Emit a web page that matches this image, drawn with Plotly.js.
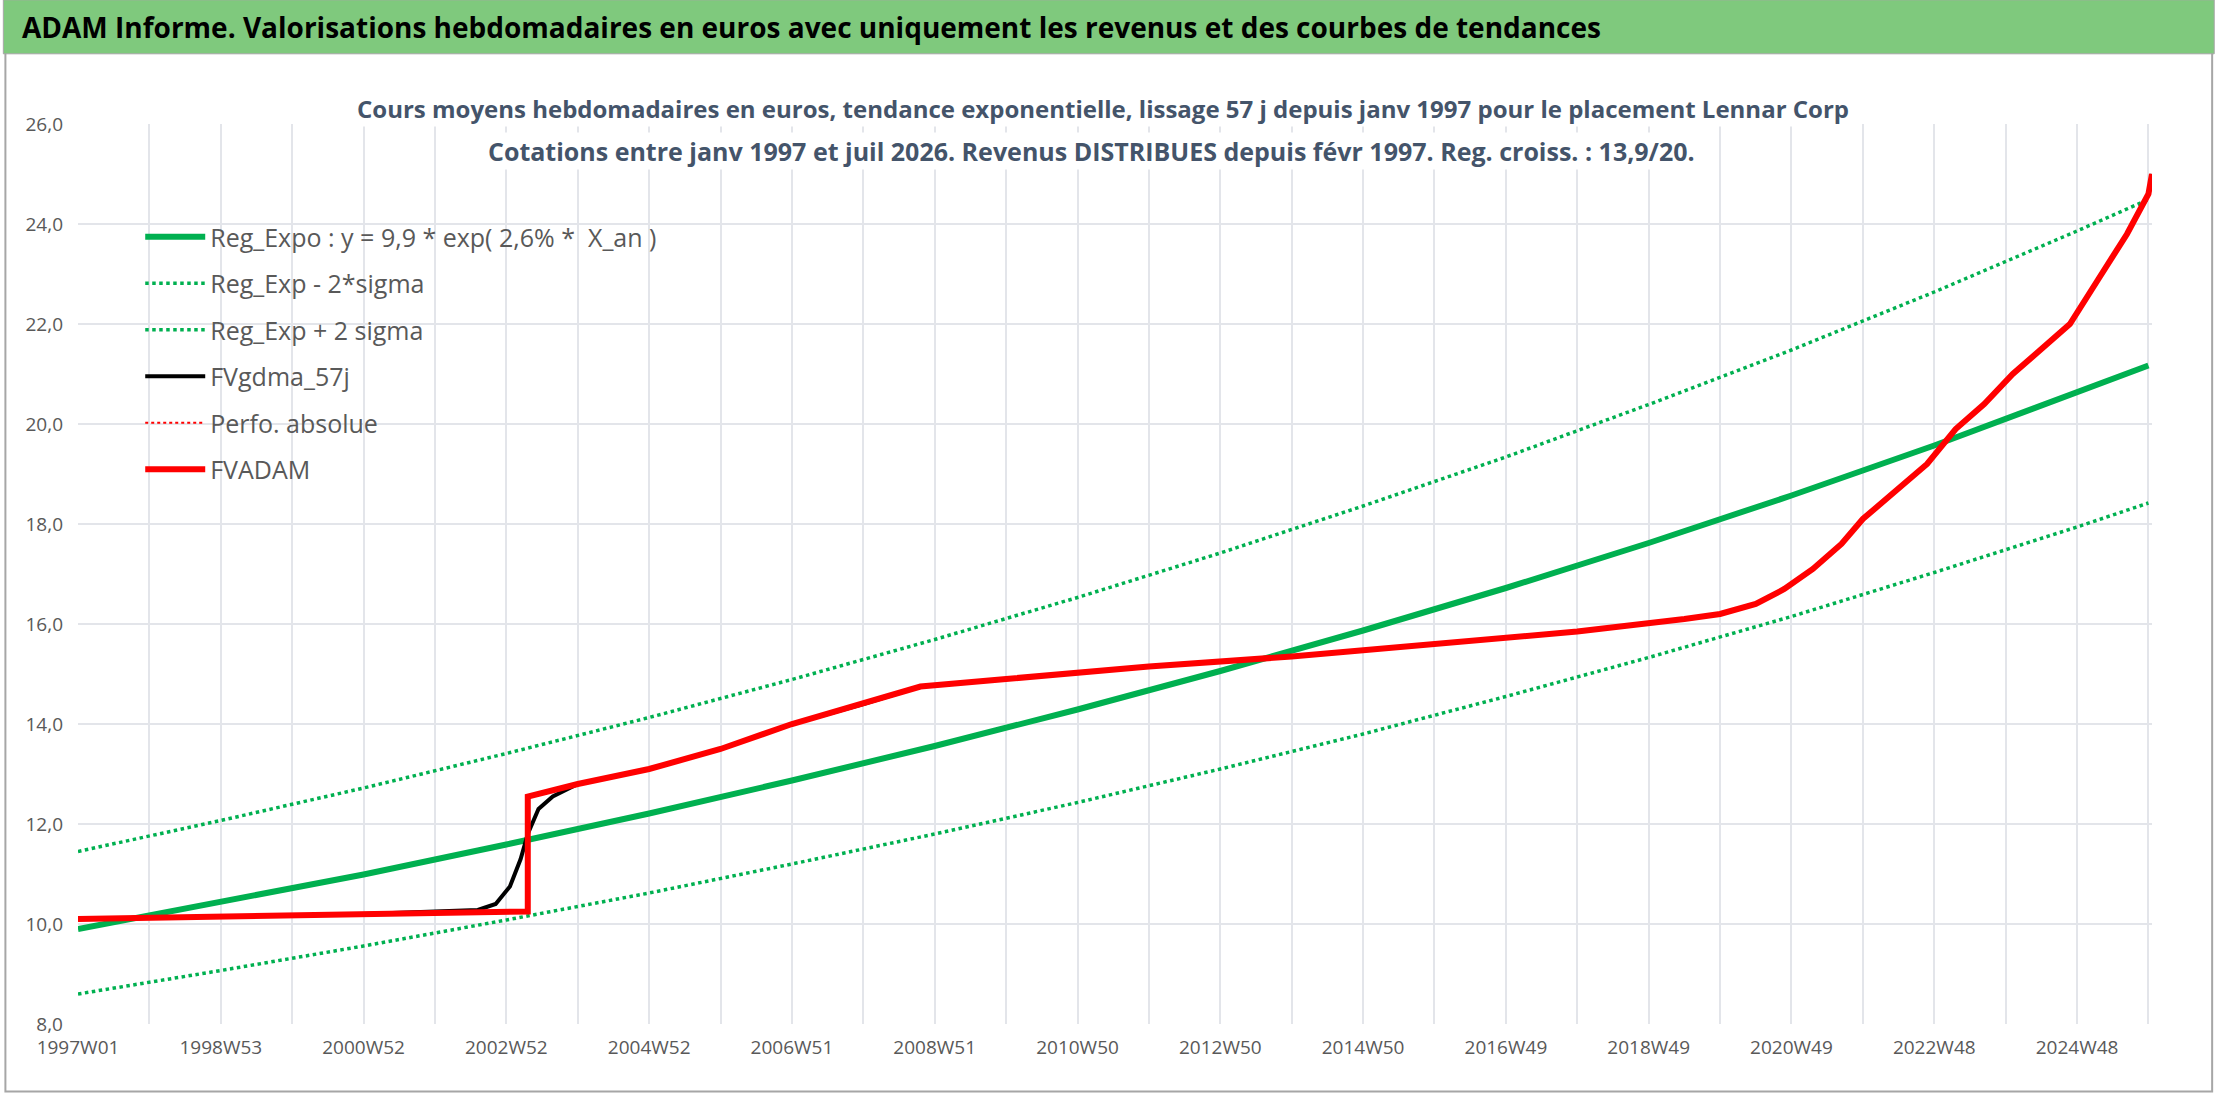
<!DOCTYPE html>
<html>
<head>
<meta charset="utf-8">
<script src="https://cdn.plot.ly/plotly-3.0.1.min.js"></script>
<style>html,body{margin:0;padding:0;background:#fff}#chart{width:2216px;height:1106px}</style>
</head>
<body>
<div id="chart"></div>
<script>
// x in years (fractional)
const regX = [1997, 1999, 2001, 2003, 2005, 2007, 2009, 2011, 2013, 2015, 2017, 2019, 2021, 2023, 2025, 2026];
const regExpo = [9.9, 10.43, 10.99, 11.59, 12.21, 12.87, 13.56, 14.29, 15.06, 15.87, 16.72, 17.62, 18.57, 19.57, 20.62, 21.17];
const regLow = [8.6, 9.07, 9.56, 10.08, 10.62, 11.2, 11.8, 12.43, 13.1, 13.8, 14.55, 15.33, 16.15, 17.03, 17.94, 18.42];
const regHigh = [11.45, 12.07, 12.72, 13.41, 14.13, 14.89, 15.69, 16.53, 17.42, 18.36, 19.34, 20.39, 21.48, 22.64, 23.86, 24.49];

const adamX = [1997, 1999, 2001, 2003, 2003.3, 2003.3, 2004, 2005, 2006, 2007, 2008, 2008.8, 2010, 2012, 2014, 2016, 2018, 2019.5, 2020, 2020.5, 2020.9, 2021.3, 2021.7, 2022, 2022.4, 2022.9, 2023.3, 2023.7, 2024.1, 2024.5, 2024.9, 2025.3, 2025.7, 2026, 2026.05];
const adamY = [10.1, 10.15, 10.2, 10.25, 10.25, 12.55, 12.8, 13.1, 13.5, 14.0, 14.4, 14.75, 14.9, 15.15, 15.35, 15.6, 15.85, 16.1, 16.2, 16.4, 16.7, 17.1, 17.6, 18.1, 18.6, 19.2, 19.9, 20.4, 21.0, 21.5, 22.0, 22.9, 23.8, 24.6, 25.0];

const gdmaX = [1997, 1999, 2001, 2002.6, 2002.85, 2003.05, 2003.2, 2003.3, 2003.45, 2003.65, 2004, 2005, 2006, 2007, 2008, 2008.8, 2010, 2012, 2014, 2016, 2018, 2019.5, 2020, 2020.5, 2020.9, 2021.3, 2021.7, 2022, 2022.4, 2022.9, 2023.3, 2023.7, 2024.1, 2024.5, 2024.9, 2025.3, 2025.7, 2026, 2026.05];
const gdmaY = [10.1, 10.15, 10.2, 10.28, 10.4, 10.75, 11.3, 11.8, 12.3, 12.55, 12.8, 13.1, 13.5, 14.0, 14.4, 14.75, 14.9, 15.15, 15.35, 15.6, 15.85, 16.1, 16.2, 16.4, 16.7, 17.1, 17.6, 18.1, 18.6, 19.2, 19.9, 20.4, 21.0, 21.5, 22.0, 22.9, 23.8, 24.6, 25.0];

const tickVals = [1997, 1999, 2001, 2003, 2005, 2007, 2009, 2011, 2013, 2015, 2017, 2019, 2021, 2023, 2025];
const tickText = ['1997W01', '1998W53', '2000W52', '2002W52', '2004W52', '2006W51', '2008W51', '2010W50', '2012W50', '2014W50', '2016W49', '2018W49', '2020W49', '2022W48', '2024W48'];

const green = '#00b050';
const traces = [
  {x: regX, y: regExpo, name: 'Reg_Expo : y = 9,9 * exp( 2,6% *  X_an )', legendgroup: 'a', mode: 'lines', line: {color: green, width: 6}},
  {x: regX, y: regLow, name: 'Reg_Exp - 2*sigma', legendgroup: 'b', mode: 'lines', line: {color: green, width: 3.5, dash: 'dot'}},
  {x: regX, y: regHigh, name: 'Reg_Exp + 2 sigma', legendgroup: 'c', mode: 'lines', line: {color: green, width: 3.5, dash: 'dot'}},
  {x: gdmaX, y: gdmaY, name: 'FVgdma_57j', legendgroup: 'd', mode: 'lines', line: {color: '#000000', width: 4}},
  {x: adamX, y: adamY, name: 'Perfo. absolue', legendgroup: 'e', mode: 'lines', line: {color: '#ff0000', width: 2, dash: 'dot'}},
  {x: adamX, y: adamY, name: 'FVADAM', legendgroup: 'f', mode: 'lines', line: {color: '#ff0000', width: 6}}
];

const layout = {
  width: 2216, height: 1106,
  margin: {l: 78, r: 64, t: 124, b: 82},
  paper_bgcolor: '#ffffff', plot_bgcolor: '#ffffff',
  font: {family: 'Open Sans, sans-serif', color: '#595959', size: 19},
  separators: ',.',
  showlegend: true,
  legend: {x: 0.03, y: 0.9, xanchor: 'left', yanchor: 'top', bgcolor: 'rgba(0,0,0,0)', font: {size: 25, color: '#595959'}, itemwidth: 60, tracegroupgap: 11},
  xaxis: {
    range: [1997, 2026.05], tickvals: tickVals, ticktext: tickText,
    showgrid: true, gridcolor: '#e3e5ea', gridwidth: 2,
    minor: {dtick: 1, tick0: 1997, showgrid: true, gridcolor: '#e3e5ea', gridwidth: 2},
    zeroline: false, showline: false, ticks: '', ticklabelstandoff: 10, tickfont: {size: 19, color: '#595959'}
  },
  yaxis: {
    range: [8, 26], dtick: 2, tickformat: '.1f', showgrid: true, gridcolor: '#e3e5ea', gridwidth: 2,
    zeroline: false, showline: false, ticks: '', ticklabelstandoff: 14, tickfont: {size: 19, color: '#595959'}
  },
  shapes: [
    {type: 'rect', xref: 'paper', yref: 'paper', x0: -0.035, x1: 1.029, y0: -0.075, y1: 1.112, line: {color: '#a6a6a6', width: 2}, fillcolor: 'rgba(0,0,0,0)', layer: 'below'},
    {type: 'rect', xref: 'paper', yref: 'paper', x0: -0.036, x1: 1.03, y0: 1.078, y1: 1.138, line: {color: '#a6a6a6', width: 1}, fillcolor: '#7fc97d', layer: 'below'}
  ],
  annotations: [
    {xref: 'paper', yref: 'paper', x: -0.028, y: 1.108, xanchor: 'left', yanchor: 'middle', showarrow: false,
     text: '<b>ADAM Informe. Valorisations hebdomadaires en euros avec uniquement les revenus et des courbes de tendances</b>',
     font: {size: 28, color: '#000000'}},
    {xref: 'paper', yref: 'paper', x: 0.494, y: 1.017, xanchor: 'center', yanchor: 'middle', showarrow: false, bgcolor: '#ffffff',
     text: '<b>Cours moyens hebdomadaires en euros, tendance exponentielle, lissage 57 j depuis janv 1997 pour le placement Lennar Corp</b>',
     font: {size: 24, color: '#44546a'}},
    {xref: 'paper', yref: 'paper', x: 0.4885, y: 0.97, xanchor: 'center', yanchor: 'middle', showarrow: false, bgcolor: '#ffffff',
     text: '<b>Cotations entre janv 1997 et juil 2026. Revenus DISTRIBUES depuis févr 1997. Reg. croiss. : 13,9/20.</b>',
     font: {size: 25, color: '#44546a'}}
  ]
};

Plotly.newPlot('chart', traces, layout, {displayModeBar: false, staticPlot: true});
</script>
</body>
</html>
